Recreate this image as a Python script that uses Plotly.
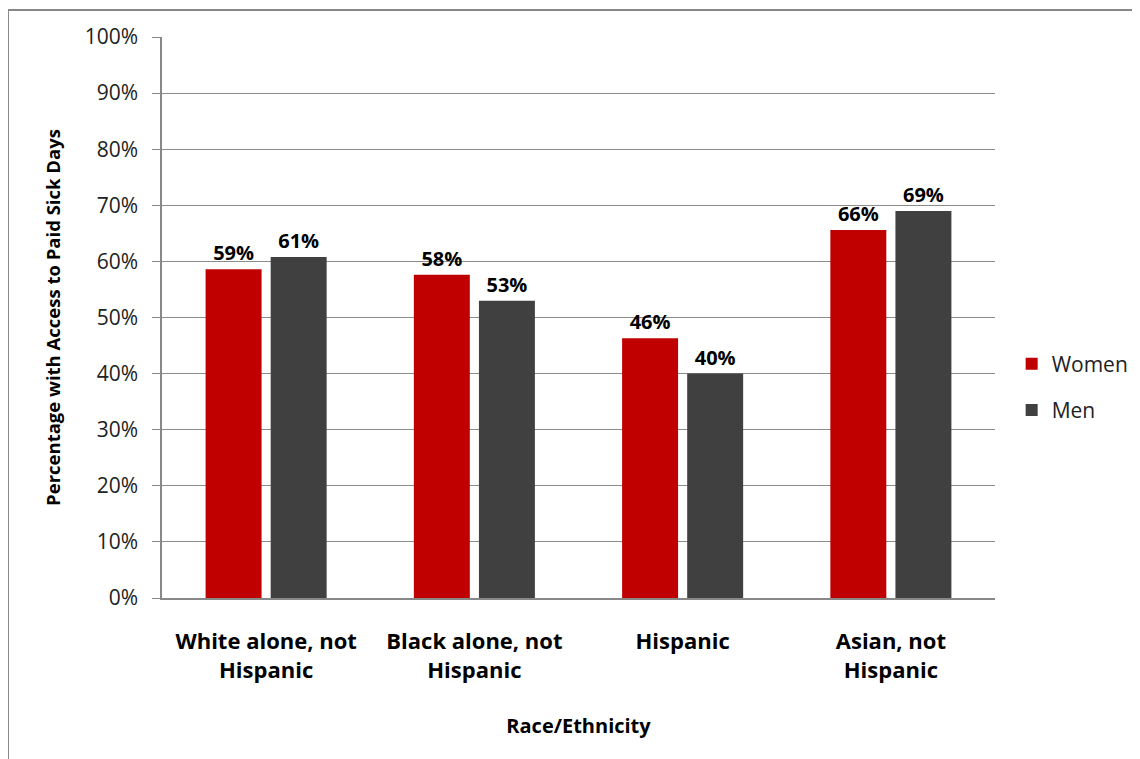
import plotly.graph_objects as go

categories = ["White alone, not<br>Hispanic", "Black alone, not<br>Hispanic", "Hispanic", "Asian, not<br>Hispanic"]
women = [0.586, 0.576, 0.463, 0.656]
men = [0.608, 0.530, 0.400, 0.690]
y_ticks = [0, 0.1, 0.2, 0.3, 0.4, 0.5, 0.6, 0.7, 0.8, 0.9, 1.0]
y_ticklabels = ["0%", "10%", "20%", "30%", "40%", "50%", "60%", "70%", "80%", "90%", "100%"]

FONT = "Open Sans, Noto Sans, DejaVu Sans, sans-serif"

fig = go.Figure()
fig.add_trace(go.Bar(
    name="Women", x=categories, y=women, marker_color="#C00000",
    marker_line_width=0, legendgroup="w",
    texttemplate="<b>%{y:.0%}</b>", textposition="outside",
    textfont=dict(size=20, color="#000000", family=FONT), cliponaxis=False,
))
fig.add_trace(go.Bar(
    name="Men", x=categories, y=men, marker_color="#404040",
    marker_line_width=0, legendgroup="m",
    texttemplate="<b>%{y:.0%}</b>", textposition="outside",
    textfont=dict(size=20, color="#000000", family=FONT), cliponaxis=False,
))

fig.update_layout(
    width=1140, height=759,
    margin=dict(l=154, r=153, t=29, b=169, autoexpand=False),
    paper_bgcolor="white", plot_bgcolor="white",
    barmode="group", bargap=0.375, bargroupgap=0.14,
    font=dict(family=FONT, color="#000000"),
    showlegend=True,
    legend=dict(x=1.020, y=0.376, xanchor="left", yanchor="middle",
                font=dict(size=21, color="#222222", family=FONT),
                itemsizing="constant", tracegroupgap=16, bgcolor="rgba(0,0,0,0)"),
)

fig.update_xaxes(
    showgrid=False, showline=True, linecolor="#888888", linewidth=1.5,
    ticks="", tickfont=dict(size=22, color="#000000", family=FONT, weight="bold"),
    ticklabelstandoff=23, automargin=False,
    title=dict(text="<b>Race/Ethnicity</b>", font=dict(size=20, color="#000000", family=FONT), standoff=36),
)
fig.update_yaxes(
    range=[0, 1.0], tickvals=y_ticks, ticktext=y_ticklabels,
    showgrid=True, gridcolor="#8c8c8c", gridwidth=1,
    showline=True, linecolor="#888888", linewidth=1.5,
    ticks="outside", ticklen=8, tickcolor="#888888",
    ticklabelstandoff=10, automargin=False,
    tickfont=dict(size=21, color="#222222", family=FONT),
    title=dict(text="<b>Percentage with Access to Paid Sick Days</b>", font=dict(size=18.5, color="#000000", family=FONT), standoff=19),
    zeroline=False,
)

fig.add_shape(type="rect", xref="paper", yref="paper",
              x0=-0.1849, x1=1.4, y0=-0.6, y1=1.048,
              line=dict(color="#888888", width=2), fillcolor="rgba(0,0,0,0)", layer="below")

fig.write_html("out.html")
